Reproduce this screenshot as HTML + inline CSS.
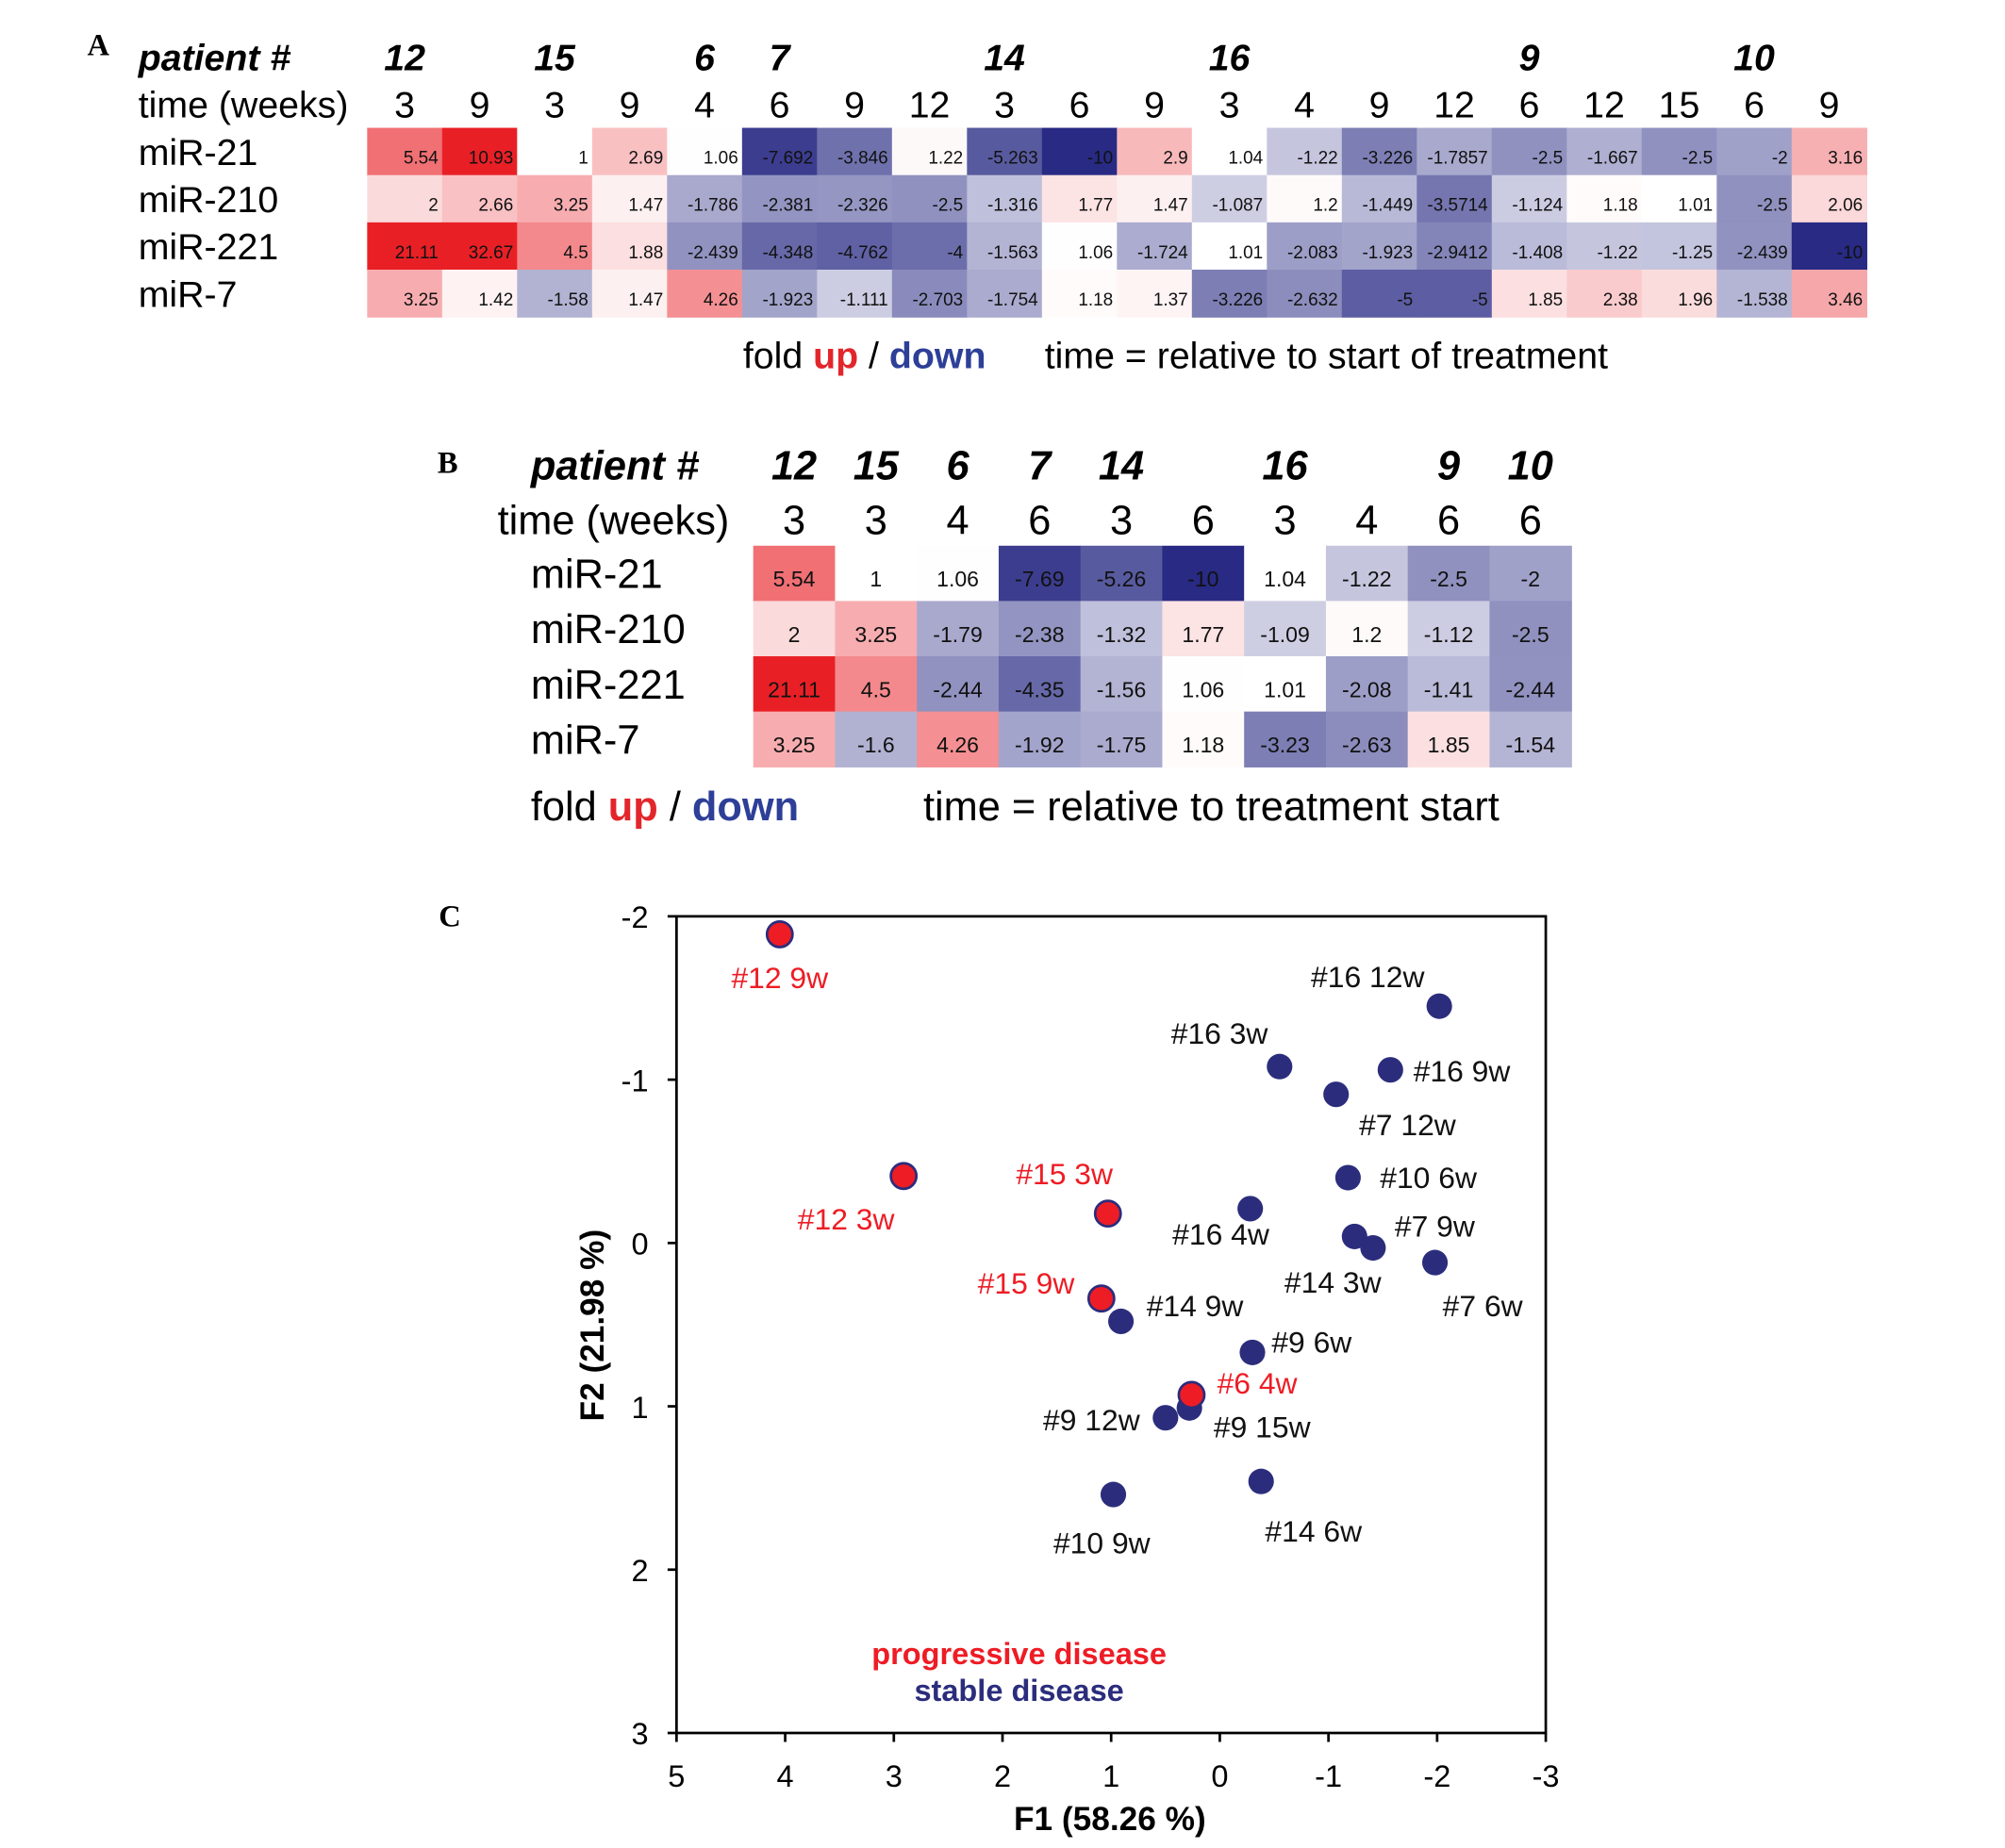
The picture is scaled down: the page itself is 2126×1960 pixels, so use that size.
<!DOCTYPE html>
<html><head><meta charset="utf-8"><style>
html,body{margin:0;padding:0;background:#fff;}
svg{display:block;font-family:"Liberation Sans",sans-serif;}
</style></head><body>
<svg id="fig" width="2126" height="1960" viewBox="0 0 1568 1446" xmlns="http://www.w3.org/2000/svg">
<rect width="1568" height="1446" fill="#fff"/>
<g id="pa"></g>
<g id="pb"></g>
<g id="pc"></g>
</svg>
<script>
// ---------- Panel A data ----------
const rowsA = ["miR-21","miR-210","miR-221","miR-7"];
const timesA = [3,9,3,9,4,6,9,12,3,6,9,3,4,9,12,6,12,15,6,9];
const patientsA = ["12","","15","","6","7","","","14","","","16","","","","9","","","10",""];
const mir21A = [5.54,10.93,1,2.69,1.06,-7.692,-3.846,1.22,-5.263,-10,2.9,1.04,-1.22,-3.226,-1.7857,-2.5,-1.667,-2.5,-2,3.16];
const mir210A = [2,2.66,3.25,1.47,-1.786,-2.381,-2.326,-2.5,-1.316,1.77,1.47,-1.087,1.2,-1.449,-3.5714,-1.124,1.18,1.01,-2.5,2.06];
const mir221A = [21.11,32.67,4.5,1.88,-2.439,-4.348,-4.762,-4,-1.563,1.06,-1.724,1.01,-2.083,-1.923,-2.9412,-1.408,-1.22,-1.25,-2.439,-10];
const mir7A = [3.25,1.42,-1.58,1.47,4.26,-1.923,-1.111,-2.703,-1.754,1.18,1.37,-3.226,-2.632,-5,-5,1.85,2.38,1.96,-1.538,3.46];
// ---------- Panel B data ----------
const rowsB = ["miR-21","miR-210","miR-221","miR-7"];
const timesB = [3,3,4,6,3,6,3,4,6,6];
const patientsB = ["12","15","6","7","14","","16","","9","10"];
const mir21B = [5.54,1,1.06,-7.69,-5.26,-10,1.04,-1.22,-2.5,-2];
const mir210B = [2,3.25,-1.79,-2.38,-1.32,1.77,-1.09,1.2,-1.12,-2.5];
const mir221B = [21.11,4.5,-2.44,-4.35,-1.56,1.06,1.01,-2.08,-1.41,-2.44];
const mir7B = [3.25,-1.6,4.26,-1.92,-1.75,1.18,-3.23,-2.63,1.85,-1.54];
// ---------- Panel C data ----------
const ptLabels = ["#12 9w","#16 12w","#16 3w","#16 9w","#7 12w","#12 3w","#10 6w","#15 3w","#16 4w","#14 3w","#7 9w","#7 6w","#15 9w","#14 9w","#9 6w","#6 4w","#9 15w","#9 12w","#10 9w","#14 6w"];
const ptF1 = [4.05,-2.02,-0.55,-1.57,-1.07,2.91,-1.18,1.03,-0.28,-1.24,-1.41,-1.98,1.09,0.91,-0.30,0.26,0.28,0.50,0.98,-0.38];
const ptF2 = [-1.89,-1.45,-1.08,-1.06,-0.91,-0.41,-0.40,-0.18,-0.21,-0.04,0.03,0.12,0.34,0.48,0.67,0.93,1.01,1.07,1.54,1.46];
const ptGroup = ["p","s","s","s","s","p","s","p","s","s","s","s","p","s","s","p","s","s","s","s"];
const xTicks = [5,4,3,2,1,0,-1,-2,-3];
const yTicks = [-2,-1,0,1,2,3];

const NS="http://www.w3.org/2000/svg";
function mk(tag, attrs, parent, text){
  const e=document.createElementNS(NS,tag);
  for(const k in attrs) e.setAttribute(k,attrs[k]);
  if(text!==undefined) e.textContent=text;
  parent.appendChild(e); return e;
}
function heat(v){
  const white=[255,255,255];
  let c,t;
  if(v>=1){ t=Math.min(1,Math.pow(Math.log10(v),1.5)); c=[232,32,38]; }
  else { t=Math.min(1,0.2+0.8*Math.log10(Math.abs(v))); c=[40,42,132]; }
  const r=c.map((x,i)=>Math.round(white[i]+(x-white[i])*t));
  return "rgb("+r.join(",")+")";
}

// ---------- Panel A ----------
(function(){
  const g=document.getElementById('pa');
  const x0=287,x1=1460,y0=100,rh=37;
  const n=timesA.length, cw=(x1-x0)/n;
  const rowsData=[mir21A,mir210A,mir221A,mir7A];
  const fs=29;
  let t;
  t=mk('text',{x:68,y:43,'font-family':'Liberation Serif, serif','font-weight':'bold','font-size':24},g,'A');
   
  t=mk('text',{x:108,y:55,'font-weight':'bold','font-style':'italic','font-size':fs},g,'patient #');
   
  t=mk('text',{x:108,y:92,'font-size':fs},g,'time (weeks)');
   
  for(let j=0;j<n;j++){
    const cx=x0+cw*(j+0.5);
    if(patientsA[j]){
      t=mk('text',{x:cx,y:55,'text-anchor':'middle','font-weight':'bold','font-style':'italic','font-size':fs},g,patientsA[j]);
       
    }
    t=mk('text',{x:cx,y:92,'text-anchor':'middle','font-size':fs},g,String(timesA[j]));
     
  }
  rowsData.forEach((arr,i)=>{
    const ry=y0+i*rh;
    t=mk('text',{x:108,y:ry+29,'font-size':fs},g,rowsA[i]);
     
    arr.forEach((v,j)=>{
      const r=mk('rect',{x:x0+j*cw,y:ry,width:cw+0.5,height:rh+0.5,fill:heat(v)},g);
       
      const tx=mk('text',{x:x0+(j+1)*cw-3,y:ry+28,'text-anchor':'end','font-size':14,fill:'#111'},g,String(v));
       
    });
  });
  t=mk('text',{x:581,y:288,'font-size':fs},g);
   
  t.innerHTML='fold <tspan fill="#e3262b" font-weight="bold">up</tspan> / <tspan fill="#2d3f97" font-weight="bold">down</tspan>';
  t=mk('text',{x:817,y:288,'font-size':fs},g,'time = relative to start of treatment');
   
})();

// ---------- Panel B ----------
(function(){
  const g=document.getElementById('pb');
  const x0=589,x1=1229,y0=427,rh=43.25;
  const n=timesB.length, cw=(x1-x0)/n;
  const rowsData=[mir21B,mir210B,mir221B,mir7B];
  const fs=32;
  let t;
  t=mk('text',{x:342,y:370,'font-family':'Liberation Serif, serif','font-weight':'bold','font-size':24},g,'B');
   
  t=mk('text',{x:415,y:375,'font-weight':'bold','font-style':'italic','font-size':fs},g,'patient #');
   
  t=mk('text',{x:389,y:418,'font-size':fs},g,'time (weeks)');
   
  for(let j=0;j<n;j++){
    const cx=x0+cw*(j+0.5);
    if(patientsB[j]){
      t=mk('text',{x:cx,y:375,'text-anchor':'middle','font-weight':'bold','font-style':'italic','font-size':fs},g,patientsB[j]);
       
    }
    t=mk('text',{x:cx,y:418,'text-anchor':'middle','font-size':fs},g,String(timesB[j]));
     
  }
  rowsData.forEach((arr,i)=>{
    const ry=y0+i*rh;
    t=mk('text',{x:415,y:ry+33,'font-size':fs},g,rowsB[i]);
     
    arr.forEach((v,j)=>{
      const r=mk('rect',{x:x0+j*cw,y:ry,width:cw+0.5,height:rh+0.5,fill:heat(v)},g);
       
      const tx=mk('text',{x:x0+(j+0.5)*cw,y:ry+32,'text-anchor':'middle','font-size':17,fill:'#111'},g,String(v));
       
    });
  });
  t=mk('text',{x:415,y:642,'font-size':fs},g);
   
  t.innerHTML='fold <tspan fill="#e3262b" font-weight="bold">up</tspan> / <tspan fill="#2d3f97" font-weight="bold">down</tspan>';
  t=mk('text',{x:722,y:642,'font-size':fs},g,'time = relative to treatment start');
   
})();

// ---------- Panel C ----------
(function(){
  const g=document.getElementById('pc');
  const L=529,R=1209,T=717,B=1356;
  const sx=v=>L+(5-v)/8*(R-L);
  const sy=v=>T+(v+2)/5*(B-T);
  let t;
  t=mk('text',{x:343,y:725,'font-family':'Liberation Serif, serif','font-weight':'bold','font-size':24},g,'C');
   
  const box=mk('rect',{x:L,y:T,width:R-L,height:B-T,fill:'none',stroke:'#000','stroke-width':2},g);
   
  xTicks.forEach(v=>{
    const x=sx(v);
    const l=mk('line',{x1:x,x2:x,y1:B,y2:B+7,stroke:'#000','stroke-width':2},g);
     
    const tx=mk('text',{x:x,y:1398,'text-anchor':'middle','font-size':24},g,String(v));
     
  });
  yTicks.forEach(v=>{
    const y=sy(v);
    const l=mk('line',{x1:L-7,x2:L,y1:y,y2:y,stroke:'#000','stroke-width':2},g);
     
    const tx=mk('text',{x:507,y:y+9,'text-anchor':'end','font-size':24},g,String(v));
     
  });
  t=mk('text',{x:868,y:1432,'text-anchor':'middle','font-weight':'bold','font-size':26},g,'F1 (58.26 %)');
   
  t=mk('text',{x:0,y:0,'text-anchor':'middle','font-weight':'bold','font-size':26,transform:'translate(472,1037) rotate(-90)'},g,'F2 (21.98 %)');
   
  const off=[[0,34,'middle'],[-56,-23,'middle'],[-47,-26,'middle'],[18,1,'start'],[18,24,'start'],[-45,34,'middle'],[25,0,'start'],[-34,-31,'middle'],[-23,20,'middle'],[-17,36,'middle'],[17,-17,'start'],[6,34,'start'],[-21,-12,'end'],[20,-12,'start'],[15,-8,'start'],[20,-9,'start'],[19,15,'start'],[-20,2,'end'],[-9,38,'middle'],[41,39,'middle']];
  const order=[...ptLabels.keys()].sort((a,b)=>(ptGroup[a]==='p')-(ptGroup[b]==='p'));
  order.forEach(i=>{
    const cx=sx(ptF1[i]), cy=sy(ptF2[i]);
    const prog=ptGroup[i]==='p';
    const c=mk('circle',{cx:cx,cy:cy,r:10,fill:prog?'#ee1c25':'#2b2d7c',stroke:'#2b2d7c','stroke-width':prog?2:0},g);
    
    
  });
  ptLabels.forEach((lab,i)=>{
    const o=off[i];
    const tx=mk('text',{x:sx(ptF1[i])+o[0],y:sy(ptF2[i])+o[1]+8,'text-anchor':o[2],'font-size':23.5,fill:ptGroup[i]==='p'?'#ee1c25':'#111'},g,lab);
    
    
  });
  t=mk('text',{x:797,y:1302,'text-anchor':'middle','font-weight':'bold','font-size':24,fill:'#ee1c25'},g,'progressive disease');
   
  t=mk('text',{x:797,y:1331,'text-anchor':'middle','font-weight':'bold','font-size':24,fill:'#2b2d7c'},g,'stable disease');
   
})();
</script>
</body></html>
